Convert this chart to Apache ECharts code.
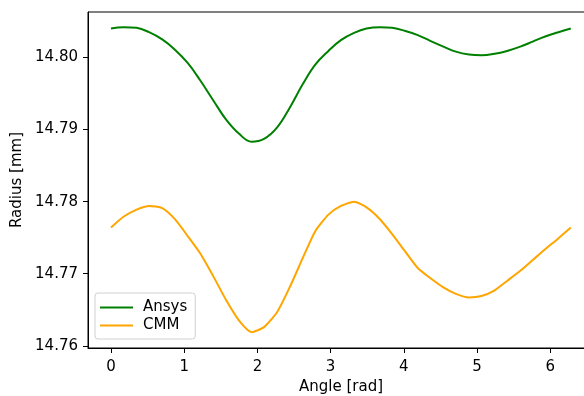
<!DOCTYPE html>
<html lang="en">
<head>
  <meta charset="UTF-8">
  <title>Radius vs Angle</title>
  <style>
    html, body { margin: 0; padding: 0; background: #fff; }
  </style>
</head>
<body>
  <div id="main" style="width:584px;height:396px"></div>
  <script src="https://cdn.jsdelivr.net/npm/echarts@6/dist/echarts.min.js"></script>
  <script>
    var myChart = echarts.init(document.getElementById('main'))

    // angle in rad, 10 degree steps
    var angles = [0, 0.17, 0.35, 0.52, 0.70, 0.87, 1.05, 1.22, 1.40, 1.57,
                  1.75, 1.92, 2.09, 2.27, 2.44, 2.62, 2.79, 2.97, 3.14, 3.32,
                  3.49, 3.67, 3.84, 4.01, 4.19, 4.36, 4.54, 4.71, 4.89, 5.06,
                  5.24, 5.41, 5.59, 5.76, 5.93, 6.11, 6.28]
    var ansys = [14.8040, 14.8042, 14.8041, 14.8035, 14.8025, 14.8011, 14.7992, 14.7968, 14.7940, 14.7914,
                 14.7894, 14.7883, 14.7887, 14.7903, 14.7930, 14.7963, 14.7990, 14.8009, 14.8024, 14.8034,
                 14.8040, 14.8042, 14.8041, 14.8037, 14.8031, 14.8023, 14.8015, 14.8008, 14.8004, 14.8003,
                 14.8005, 14.8009, 14.8015, 14.8022, 14.8029, 14.8035, 14.8040]
    var cmm = [14.7764, 14.7779, 14.7789, 14.7794, 14.7791, 14.7776, 14.7752, 14.7728, 14.7696, 14.7664,
               14.7635, 14.7619, 14.7626, 14.7647, 14.7681, 14.7722, 14.7759, 14.7782, 14.7794, 14.7800,
               14.7792, 14.7776, 14.7755, 14.7732, 14.7708, 14.7694, 14.7681, 14.7672, 14.7667, 14.7669,
               14.7677, 14.7690, 14.7704, 14.7719, 14.7734, 14.7749, 14.7764]
    var xTicks = [0, 1, 2, 3, 4, 5, 6]
    var yTicks = [14.76, 14.77, 14.78, 14.79, 14.80]

    function pairs(xs, ys) {
      var out = []
      for (var i = 0; i < xs.length; i++) {
        out.push([xs[i], ys[i]])
      }
      return out
    }

    var font = 'DejaVu Sans'
    var fs = 15

    var options = {
      animation: false,
      textStyle: { fontFamily: font },
      grid: {
        left: 88,
        top: 12,
        bottom: 48,
        right: -10,
        outerBoundsMode: 'none',
        show: true,
        borderColor: '#000',
        borderWidth: 1
      },
      legend: {
        orient: 'vertical',
        left: 95,
        top: 293,
        icon: 'rect',
        itemWidth: 33,
        itemHeight: 2,
        itemGap: 3,
        padding: [7, 8, 6, 5],
        backgroundColor: 'rgba(255,255,255,0.8)',
        borderColor: '#d0d0d0',
        borderWidth: 1,
        borderRadius: 3,
        textStyle: { fontFamily: font, fontSize: fs, color: '#000', padding: [0, 0, 0, 5] },
        data: ['Ansys', 'CMM']
      },
      xAxis: {
        type: 'value',
        min: -0.314,
        max: 6.597,
        name: 'Angle [rad]',
        nameLocation: 'middle',
        nameGap: 31,
        nameTextStyle: { fontFamily: font, fontSize: fs, color: '#000' },
        splitLine: { show: false },
        axisLine: { onZero: false, lineStyle: { color: '#000', width: 1 } },
        axisTick: { length: 5, lineStyle: { color: '#000' }, customValues: xTicks },
        axisLabel: {
          customValues: xTicks,
          margin: 12,
          fontFamily: font,
          fontSize: fs,
          color: '#000'
        }
      },
      yAxis: {
        type: 'value',
        min: 14.7597,
        max: 14.8063,
        name: 'Radius [mm]',
        nameLocation: 'middle',
        nameGap: 57,
        nameTextStyle: { fontFamily: font, fontSize: fs, color: '#000' },
        splitLine: { show: false },
        axisLine: { show: true, onZero: false, lineStyle: { color: '#000', width: 1 } },
        axisTick: { show: true, length: 5, lineStyle: { color: '#000' }, customValues: yTicks },
        axisLabel: {
          customValues: yTicks,
          margin: 10,
          fontFamily: font,
          fontSize: fs,
          color: '#000',
          formatter: function (v) { return v.toFixed(2) }
        }
      },
      series: [
        {
          name: 'Ansys',
          type: 'line',
          data: pairs(angles, ansys),
          smooth: 0.4,
          symbol: 'none',
          lineStyle: { color: '#008000', width: 2 },
          itemStyle: { color: '#008000' }
        },
        {
          name: 'CMM',
          type: 'line',
          data: pairs(angles, cmm),
          smooth: 0.2,
          symbol: 'none',
          lineStyle: { color: '#ffa500', width: 2 },
          itemStyle: { color: '#ffa500' }
        }
      ]
    }

    myChart.setOption(options)
  </script>
</body>
</html>
